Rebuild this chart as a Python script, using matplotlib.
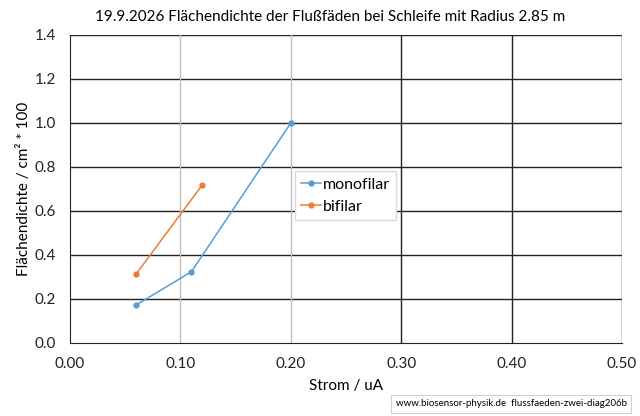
import matplotlib
matplotlib.use("Agg")
import matplotlib.pyplot as plt

mono_x = [0.06, 0.11, 0.20]
mono_y = [0.173, 0.324, 1.0]
bi_x = [0.06, 0.12]
bi_y = [0.314, 0.72]
xticks = [0.0, 0.1, 0.2, 0.3, 0.4, 0.5]
yticks = [0.0, 0.2, 0.4, 0.6, 0.8, 1.0, 1.2, 1.4]

plt.rcParams['font.family'] = ['Lato', 'DejaVu Sans']

fig = plt.figure(figsize=(6.4, 4.16), dpi=100)
ax = fig.add_axes([70/640, 1-343/416, 552/640, 308/416])
ax.set_xlim(0, 0.5)
ax.set_ylim(0, 1.4)

for y in yticks[1:]:
    ax.axhline(y, color='#222222', lw=1.0, zorder=1)
for x in xticks[1:]:
    c = '#bfbfbf' if x < 0.25 else '#222222'
    ax.axvline(x, color=c, lw=1.0, zorder=1)

ax.plot(mono_x, mono_y, color='#5b9bd5', lw=1.1, marker='o', ms=3.5, label='monofilar', zorder=3)
ax.plot(bi_x, bi_y, color='#ed7d31', lw=1.1, marker='o', ms=3.5, label='bifilar', zorder=3)

for s in ['top', 'right']:
    ax.spines[s].set_visible(False)
ax.spines['left'].set_color('#222222')
ax.spines['bottom'].set_color('#222222')

ax.set_xticks(xticks)
ax.set_xticklabels([f"{v:.2f}" for v in xticks])
ax.set_yticks(yticks)
ax.set_yticklabels([f"{v:.1f}" for v in yticks])
ax.tick_params(length=0, labelsize=11, colors='#222222', pad=10)

ax.set_xlabel('Strom / uA', fontsize=11, labelpad=6)
ax.set_ylabel('Flächendichte / cm² * 100', fontsize=11, labelpad=3)

leg = ax.legend(loc='upper left', bbox_to_anchor=(225/552, (343-171)/308), fontsize=11.5,
                frameon=True, fancybox=False, edgecolor='#d9d9d9', framealpha=1,
                handlelength=1.2, handletextpad=0.15, borderpad=0.4, labelspacing=0.5,
                borderaxespad=0)

fig.text(330/640, 1-17/416, '19.9.2026 Flächendichte der Flußfäden bei Schleife mit Radius 2.85 m',
         ha='center', va='center', fontsize=11)

fig.text(511/640, 1-404/416, 'www.biosensor-physik.de  flussfaeden-zwei-diag206b',
         ha='center', va='center', fontsize=7,
         bbox=dict(boxstyle='square,pad=0.5', fc='white', ec='#d0d0d0', lw=0.8))

fig.savefig('out.png', dpi=100)
